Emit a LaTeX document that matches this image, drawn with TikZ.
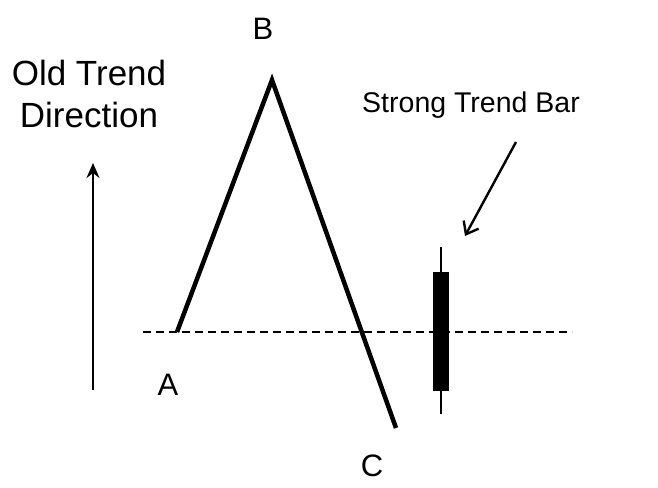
\documentclass[tikz,border=0pt]{standalone}
\usepackage{fontspec}
\setmainfont{Liberation Sans}
\usetikzlibrary{arrows.meta,positioning,calc}

\begin{document}
\begin{tikzpicture}[
  x=1pt, y=-1pt,
  font=\fontsize{31}{37}\selectfont,
  lbl/.style={inner sep=0pt, anchor=base, align=center},
  big/.style={lbl, font=\fontsize{35}{42}\selectfont},
  leg/.style={line width=4.5pt, line join=miter},
  level/.style={dashed, line width=1.3pt, dash pattern=on 8pt off 5pt},
  arr/.style={-{Stealth[length=15pt, width=13pt, inset=5pt]}, line width=2.4pt},
  barb/.style={-{Straight Barb[length=11pt, width=17pt]}, line width=2.4pt}]
  \useasboundingbox (0,0) rectangle (658,487);
  % swing points
  \coordinate (ptA) at (177,332);
  \coordinate (ptB) at (272,80);
  \coordinate (ptC) at (396,428);
  \node[lbl] (labB) at (263,40) {B};
  \node[lbl] (labA) at (168,395) {A};
  \node[lbl] (labC) at (372,476) {C};
  % old trend
  \node[big] (trend) at (89,127) {Old Trend\\Direction};
  \coordinate (upS) at (93,390);
  \coordinate (upE) at (93,163);
  % level line
  \coordinate (lvlL) at (143,332);
  \coordinate (lvlR) at (572,332);
  % candle
  \node[draw=none, fill=black, minimum width=16pt, minimum height=119pt, inner sep=0pt] (body) at (441,331.5) {};
  \coordinate (wickT) at (441,247);
  \coordinate (wickB) at (441,414);
  \node[lbl, font=\fontsize{28.5}{34}\selectfont] (strong) at (471,112) {Strong Trend Bar};
  \coordinate (pS) at (516,142);
  \coordinate (pE) at (465,236);
  \draw[level] (lvlL) -- (lvlR);
  \draw[leg] (ptA) -- (ptB) -- (ptC);
  \draw[line width=2.5pt] (wickT) -- (body.north);
  \draw[line width=2.5pt] (body.south) -- (wickB);
  \draw[arr] (upS) -- (upE);
  \draw[barb] (pS) -- (pE);
\end{tikzpicture}
\end{document}
